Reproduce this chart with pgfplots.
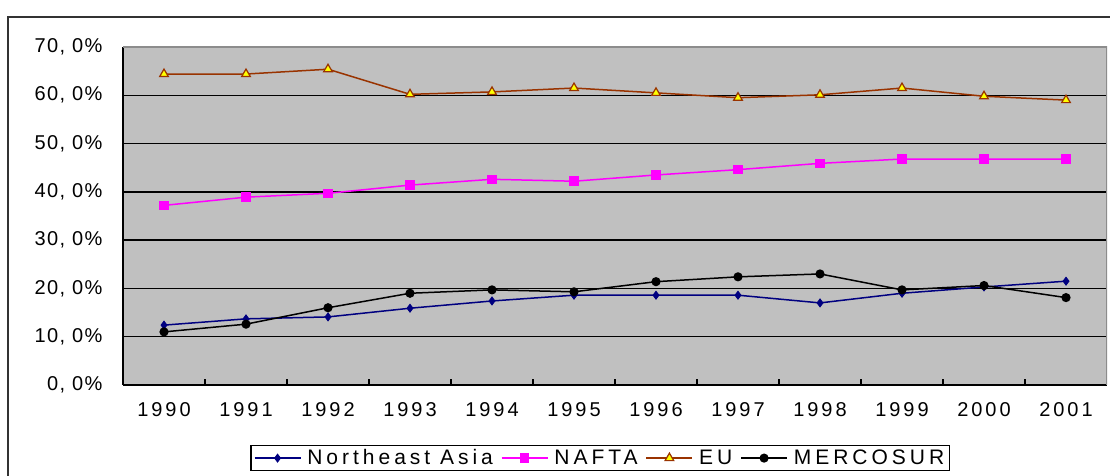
\documentclass[border=0pt]{standalone}
\usepackage{fontspec}
\setmainfont{Liberation Sans}
\newfontfamily\spaced[LetterSpace=15]{Liberation Sans}
\newfontfamily\legfont[LetterSpace=19]{Liberation Sans}
\newfontfamily\yfont[LetterSpace=7]{Liberation Sans}
\usepackage{pgfplots}
\pgfplotsset{compat=1.18}
\definecolor{plotbg}{RGB}{192,192,192}
\definecolor{nea}{RGB}{0,0,128}
\definecolor{nafta}{RGB}{255,0,255}
\definecolor{eu}{RGB}{153,51,0}
\definecolor{euy}{RGB}{255,255,0}
\begin{document}
\begin{tikzpicture}
\useasboundingbox (0,0) rectangle (1110pt,476pt);
\fill[white] (0,0) rectangle (1110pt,476pt);
\draw[line width=1.5pt, black!80] (8pt,-20pt) rectangle (1130pt,459pt);
\begin{axis}[
  at={(123pt,91pt)}, anchor=south west,
  scale only axis, width=984pt, height=338pt,
  xmin=-0.5, xmax=11.5, ymin=0, ymax=70,
  axis background/.style={fill=plotbg},
  axis x line*=bottom, axis y line*=left,
  axis line style={line width=1.5pt, black},
  xtick={0,...,11},
  xticklabels={1990,1991,1992,1993,1994,1995,1996,1997,1998,1999,2000,2001},
  minor xtick={0.5,1.5,...,10.5},
  major tick length=0pt, minor tick length=6pt,
  tick align=inside,
  tick style={line width=1.2pt, black},
  ytick={0,10,...,70},
  yticklabels={{0, 0\%},{10, 0\%},{20, 0\%},{30, 0\%},{40, 0\%},{50, 0\%},{60, 0\%},{70, 0\%}},
  ymajorgrids, major grid style={line width=1.5pt, black},
  xticklabel style={font=\fontsize{20}{24}\selectfont\spaced, yshift=-14pt},
  yticklabel style={font=\fontsize{20}{24}\selectfont\yfont, xshift=-17pt},
  legend columns=4,
  legend style={at={(axis description cs:0.4848,-0.1775)}, anchor=north,
    draw=black, line width=1.5pt, fill=white,
    font=\fontsize{21}{24}\selectfont\legfont,
    /tikz/every odd column/.append style={column sep=4pt},
    /tikz/every even column/.append style={column sep=6pt}},
  legend cell align=left,
  legend image code/.code={\draw[mark repeat=2,mark phase=2,#1] plot coordinates {(0pt,0pt) (23pt,0pt) (46pt,0pt)};},
  every axis plot/.append style={line width=1.5pt},
]
\addplot[nea, mark=diamond*, mark size=4pt, mark options={fill=nea, draw=nea, line width=0.8pt}] coordinates {
(0,12.4) (1,13.7) (2,14.1) (3,15.9) (4,17.4) (5,18.6) (6,18.6) (7,18.6) (8,17.0) (9,19.0) (10,20.3) (11,21.5)};
\addlegendentry{Northeast Asia}
\addplot[nafta, mark=square*, mark size=4pt, mark options={fill=nafta, draw=nafta}] coordinates {
(0,37.2) (1,38.9) (2,39.7) (3,41.4) (4,42.6) (5,42.2) (6,43.5) (7,44.6) (8,45.9) (9,46.8) (10,46.8) (11,46.8)};
\addlegendentry{NAFTA}
\addplot[eu, mark=triangle*, mark size=5pt, mark options={fill=euy, draw=eu, line width=1.2pt}] coordinates {
(0,64.4) (1,64.4) (2,65.4) (3,60.2) (4,60.7) (5,61.5) (6,60.5) (7,59.5) (8,60.1) (9,61.5) (10,59.8) (11,59.0)};
\addlegendentry{EU}
\addplot[black, mark=*, mark size=3.8pt, mark options={fill=black}] coordinates {
(0,11.0) (1,12.6) (2,16.0) (3,19.0) (4,19.7) (5,19.3) (6,21.4) (7,22.4) (8,23.0) (9,19.7) (10,20.6) (11,18.1)};
\addlegendentry{MERCOSUR}
\draw[line width=1.5pt, black!45] (rel axis cs:0,1) -- (rel axis cs:1,1) -- (rel axis cs:1,0);
\end{axis}
\end{tikzpicture}
\end{document}
